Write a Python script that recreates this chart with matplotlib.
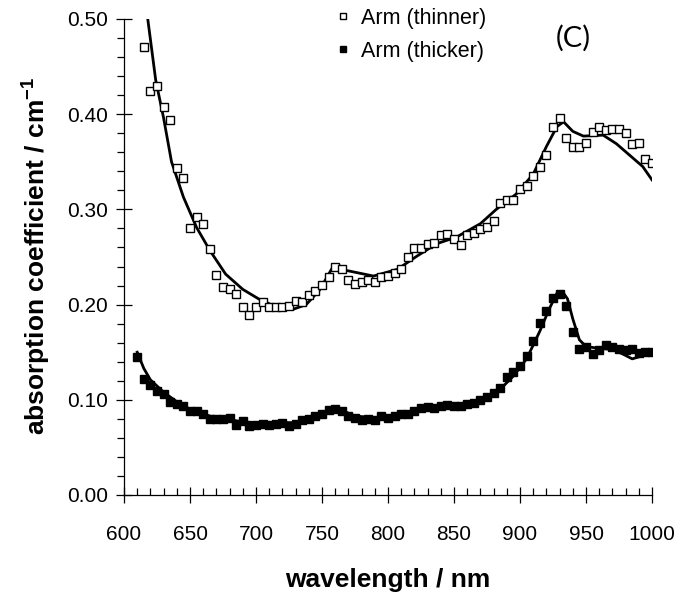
import numpy as np
import matplotlib
matplotlib.use("Agg")
import matplotlib.pyplot as plt
from matplotlib.lines import Line2D
from matplotlib.ticker import MultipleLocator, FormatStrFormatter

plt.rcParams['font.family'] = ['Liberation Sans', 'DejaVu Sans']
plt.rcParams['mathtext.fontset'] = 'custom'
plt.rcParams['mathtext.rm'] = 'Liberation Sans'
plt.rcParams['mathtext.bf'] = 'Liberation Sans:bold'

# measured points, arm (thinner) - open squares
wl_thin = np.arange(615, 1001, 5)
abs_thin = [0.471, 0.4245, 0.4295, 0.408, 0.394, 0.343, 0.333, 0.280, 0.292, 0.285,
            0.258, 0.231, 0.219, 0.216, 0.211, 0.197, 0.189, 0.197, 0.203, 0.197,
            0.197, 0.197, 0.199, 0.204, 0.203, 0.210, 0.214, 0.221, 0.229, 0.239,
            0.237, 0.2255, 0.222, 0.2235, 0.226, 0.2235, 0.229, 0.230, 0.233, 0.237,
            0.250, 0.259, 0.259, 0.264, 0.265, 0.273, 0.274, 0.269, 0.263, 0.273,
            0.275, 0.279, 0.281, 0.288, 0.307, 0.3095, 0.3095, 0.321, 0.325, 0.335,
            0.3445, 0.357, 0.387, 0.3955, 0.3755, 0.366, 0.366, 0.370, 0.381, 0.387,
            0.383, 0.384, 0.384, 0.380, 0.369, 0.370, 0.353, 0.349]

# measured points, arm (thicker) - filled squares
wl_thick = np.arange(610, 1001, 5)
abs_thick = [0.1445, 0.122, 0.1155, 0.1095, 0.106, 0.098, 0.096, 0.093, 0.088, 0.088,
             0.085, 0.080, 0.080, 0.080, 0.081, 0.074, 0.078, 0.072, 0.074, 0.075,
             0.074, 0.075, 0.076, 0.073, 0.075, 0.079, 0.080, 0.083, 0.085, 0.089,
             0.090, 0.088, 0.083, 0.081, 0.079, 0.080, 0.079, 0.083, 0.081, 0.083,
             0.085, 0.085, 0.088, 0.091, 0.092, 0.091, 0.093, 0.095, 0.094, 0.093,
             0.096, 0.097, 0.100, 0.103, 0.107, 0.112, 0.124, 0.129, 0.135, 0.146,
             0.162, 0.181, 0.193, 0.207, 0.211, 0.199, 0.171, 0.153, 0.155, 0.148,
             0.152, 0.158, 0.155, 0.153, 0.152, 0.153, 0.149, 0.150, 0.150]

# model fits (solid lines)
fit_thin_wl = [618, 624, 630, 636, 645, 655, 665, 677, 690, 702, 713, 728, 738, 748,
               758, 763, 768, 789, 807, 822, 837, 852, 870, 882, 897, 910, 920, 928,
               933, 940, 948, 963, 973, 983, 993, 1000]
fit_thin = [0.500, 0.436, 0.396, 0.350, 0.313, 0.281, 0.257, 0.232, 0.216, 0.206,
            0.199, 0.195, 0.200, 0.215, 0.239, 0.241, 0.236, 0.230, 0.237, 0.251,
            0.264, 0.271, 0.285, 0.300, 0.316, 0.337, 0.366, 0.387, 0.392, 0.382,
            0.377, 0.378, 0.369, 0.357, 0.345, 0.331]

fit_thick_wl = [610, 615, 620, 630, 640, 650, 660, 670, 680, 690, 700, 710, 720, 730,
                740, 750, 760, 765, 775, 790, 800, 820, 840, 860, 875, 885, 895, 905,
                915, 922, 928, 932, 936, 940, 945, 950, 960, 970, 978, 985, 990, 995, 1000]
fit_thick = [0.150, 0.133, 0.121, 0.108, 0.098, 0.090, 0.085, 0.081, 0.079, 0.077,
             0.076, 0.076, 0.076, 0.076, 0.080, 0.085, 0.090, 0.089, 0.083, 0.081,
             0.082, 0.088, 0.093, 0.097, 0.102, 0.111, 0.125, 0.143, 0.172, 0.195,
             0.212, 0.214, 0.206, 0.185, 0.163, 0.156, 0.154, 0.153, 0.148, 0.143,
             0.145, 0.150, 0.152]

fig = plt.figure(figsize=(6.78, 6.02), dpi=100)
ax = fig.add_axes([124 / 678, 1 - 495 / 602, 528 / 678, 476 / 602])

ax.plot(fit_thin_wl, fit_thin, color='black', lw=2, zorder=2)
ax.plot(fit_thick_wl, fit_thick, color='black', lw=2, zorder=2)
ax.plot(wl_thin, abs_thin, ls='none', marker='s', ms=5.5, mfc='white', mec='black',
        mew=1.0, zorder=3)
ax.plot(wl_thick, abs_thick, ls='none', marker='s', ms=5.5, mfc='black', mec='black',
        zorder=3)

ax.set_xlim(600, 1000)
ax.set_ylim(0, 0.5)
ax.xaxis.set_major_locator(MultipleLocator(50))
ax.xaxis.set_minor_locator(MultipleLocator(10))
ax.yaxis.set_major_locator(MultipleLocator(0.1))
ax.yaxis.set_minor_locator(MultipleLocator(0.02))
ax.yaxis.set_major_formatter(FormatStrFormatter('%.2f'))

for s in ['top', 'right']:
    ax.spines[s].set_visible(False)
for s in ['left', 'bottom']:
    ax.spines[s].set_linewidth(0.9)

ax.tick_params(which='major', direction='inout', length=11, width=0.9, labelsize=15)
ax.tick_params(axis='y', which='major', pad=6)
ax.tick_params(axis='x', which='major', pad=16)
ax.tick_params(axis='x', which='minor', direction='in', length=5, width=0.9)
ax.tick_params(axis='y', which='minor', direction='out', length=5, width=0.9)

fig.text(388 / 678, 1 - 580 / 602, 'wavelength / nm', ha='center', va='center',
         fontsize=19, fontweight='bold')
fig.text(36 / 678, 1 - 256 / 602, r'absorption coefficient / cm$^{\mathbf{-1}}$',
         ha='center', va='center', rotation=90, fontsize=19, fontweight='bold')

handles = [Line2D([], [], ls='none', marker='s', ms=5.5, mfc='white', mec='black', mew=1.0),
           Line2D([], [], ls='none', marker='s', ms=5.5, mfc='black', mec='black')]
ax.legend(handles, ['Arm (thinner)', 'Arm (thicker)'], loc='upper left',
          bbox_to_anchor=(337 / 678, 1 - 8 / 602), bbox_transform=fig.transFigure,
          frameon=False, fontsize=15.5, markerscale=0.75, handlelength=0.6,
          handletextpad=0.5, labelspacing=0.55, borderpad=0, borderaxespad=0)

fig.text(573 / 678, 1 - 38 / 602, '(C)', ha='center', va='center', fontsize=21,
         family=['Lato', 'DejaVu Sans'])

fig.savefig('out.png', dpi=100)
